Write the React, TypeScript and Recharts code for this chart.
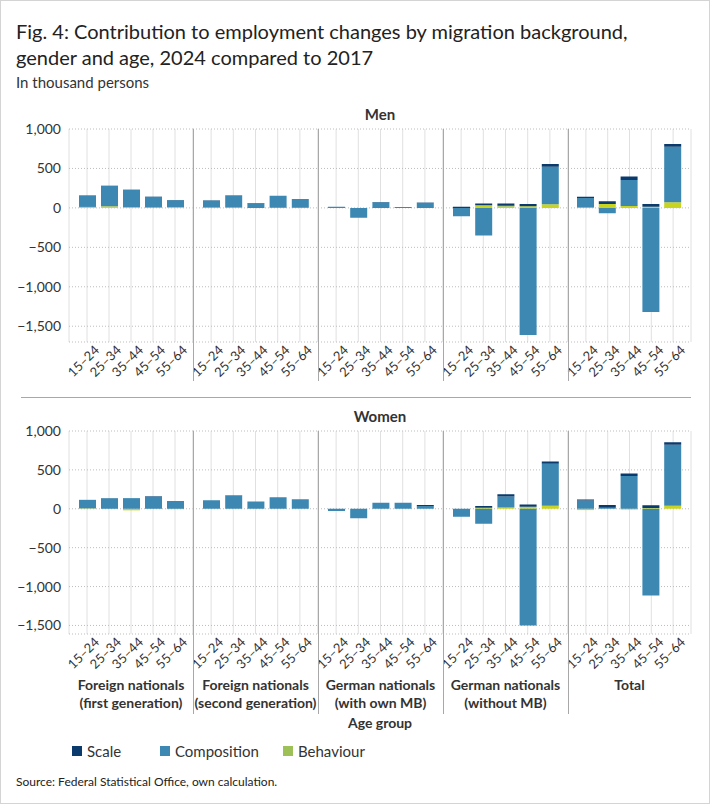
import React from 'react';
import { BarChart, Bar, XAxis, YAxis, CartesianGrid } from 'recharts';

const FONT = 'Lato, "Noto Sans", sans-serif';
const AGE_GROUPS = ['15–24', '25–34', '35–44', '45–54', '55–64'];
const GROUP_LABELS = [
  ['Foreign nationals', '(first generation)'],
  ['Foreign nationals', '(second generation)'],
  ['German nationals', '(with own MB)'],
  ['German nationals', '(without MB)'],
  ['Total'],
];
const Y_TICKS = [-1500, -1000, -500, 0, 500, 1000];

// thousand persons, one row per group, one value per age group
const menScale = [[3, 2, 2, 3, 2], [2, 0, 3, 2, 1], [0, 0, 6, 0, 2], [15, 22, 28, 30, 35], [17, 35, 42, 35, 34]];
const menComposition = [[145, 260, 222, 135, 90], [90, 155, 60, 150, 110], [15, -125, 70, 10, 65], [-107, -350, 5, -1610, 475], [120, -68, 330, -1320, 704]];
const menBehaviour = [[12, 20, 8, 5, 8], [4, 5, 0, 3, 3], [0, 0, 0, 0, 0], [0, 35, 22, 20, 47], [5, 50, 25, 15, 72]];

const womenScale = [[0, 2, 0, 5, 0], [1, 3, 0, 6, 2], [0, 0, 0, 0, 12], [0, 22, 30, 30, 30], [13, 35, 30, 34, 30]];
const womenComposition = [[110, 135, 137, 158, 100], [110, 172, 95, 140, 122], [-28, -123, 77, 77, 35], [-103, -193, 140, -1500, 540], [107, 12, 423, -1115, 784]];
const womenBehaviour = [[5, 0, -20, 0, -5], [0, 0, 0, 0, 0], [0, 0, 0, 0, 0], [0, 13, 18, 25, 38], [-17, 0, -10, 10, 40]];

const SERIES = [
  { key: 'behaviour', name: 'Behaviour', fill: '#c8d41f', legend: '#9dc157' },
  { key: 'composition', name: 'Composition', fill: '#3d88b2', legend: '#3d88b2' },
  { key: 'scale', name: 'Scale', fill: '#0b3b6d', legend: '#0b3b6d' },
];

const GROUP_WIDTHS = [192, 125, 125, 125, 123];
const Y_AXIS_WIDTH = 68;

const fmt = (v: number) => {
  const s = Math.abs(v).toLocaleString('en-US');
  return v < 0 ? '\u2212' + s : s;
};

const AgeTick = (props: any) => {
  const { x, y, payload } = props;
  return (
    <g transform={`translate(${x + 13},${y + 1})`}>
      <text textAnchor="end" transform="rotate(-45)" fontSize={13} fill="#333" fontFamily={FONT}>
        {payload.value}
      </text>
    </g>
  );
};

const buildRows = (scale: number[], comp: number[], beh: number[]) =>
  AGE_GROUPS.map((age, i) => ({ age, scale: scale[i], composition: comp[i], behaviour: beh[i] }));

type FacetProps = {
  rows: any[];
  width: number;
  plotHeight: number;
  domain: [number, number];
  withAxis: boolean;
};

const Facet = ({ rows, width, plotHeight, domain, withAxis }: FacetProps) => (
  <BarChart
    width={width}
    height={plotHeight + 50}
    data={rows}
    stackOffset="sign"
    barSize={17}
    margin={{ top: 0, right: 0, bottom: 0, left: 0 }}
    style={{ overflow: 'visible' }}
  >
    <CartesianGrid horizontal={false} stroke="#e0e0e0" />
    <CartesianGrid vertical={false} stroke="#bdbdbd" strokeDasharray="1 2" />
    <XAxis
      dataKey="age"
      interval={0}
      axisLine={false}
      tickLine={false}
      height={50}
      padding={{ left: 7, right: 7 }}
      tick={<AgeTick />}
    />
    <YAxis
      hide={!withAxis}
      width={Y_AXIS_WIDTH}
      domain={domain}
      ticks={Y_TICKS}
      interval={0}
      allowDataOverflow
      axisLine={false}
      tickLine={false}
      tickFormatter={fmt}
      tick={{ fontSize: 14, fill: '#333', fontFamily: FONT }}
    />
    {SERIES.map((s) => (
      <Bar key={s.key} dataKey={s.key} name={s.name} stackId="a" fill={s.fill} isAnimationActive={false} />
    ))}
  </BarChart>
);

const offsets = () => {
  let left = 0;
  return GROUP_WIDTHS.map((w) => {
    const l = left;
    left += w;
    return l;
  });
};

const Panel = ({ top, title, scale, comp, beh, plotHeight, domain, dividerBottom }: any) => {
  const lefts = offsets();
  return (
    <>
      <div style={{ position: 'absolute', top: top - 24, left: Y_AXIS_WIDTH, width: 622, textAlign: 'center', fontWeight: 700, fontSize: 15, color: '#333' }}>
        {title}
      </div>
      {GROUP_WIDTHS.map((w, g) => (
        <div key={g} style={{ position: 'absolute', top, left: lefts[g] }}>
          <Facet
            rows={buildRows(scale[g], comp[g], beh[g])}
            width={w}
            plotHeight={plotHeight}
            domain={domain}
            withAxis={g === 0}
          />
        </div>
      ))}
      {lefts.slice(1).map((l, i) => (
        <div key={i} style={{ position: 'absolute', top, left: l, width: 1, height: dividerBottom - top, background: '#a8a8a8' }} />
      ))}
    </>
  );
};

const LEGEND_WIDTHS = [88, 123, 100];

export default function App() {
  const lefts = offsets();
  return (
    <div style={{ position: 'relative', width: 710, height: 804, boxSizing: 'border-box', border: '1px solid #d4d4d4', fontFamily: FONT, color: '#222', background: '#fff' }}>
      <style>{'body{margin:0} .recharts-surface{overflow:visible}'}</style>
      <div style={{ position: 'absolute', top: 17, left: 15, fontSize: 20, lineHeight: '26px', width: 680 }}>
        Fig. 4: Contribution to employment changes by migration background,
        <br />
        gender and age, 2024 compared to 2017
      </div>
      <div style={{ position: 'absolute', top: 72, left: 15, fontSize: 15, color: '#333' }}>In thousand persons</div>

      <Panel top={128} title="Men" scale={menScale} comp={menComposition} beh={menBehaviour} plotHeight={213} domain={[-1700, 1000]} dividerBottom={380} />

      <div style={{ position: 'absolute', top: 396, left: 20, width: 670, height: 1, background: '#a8a8a8' }} />

      <Panel top={430} title="Women" scale={womenScale} comp={womenComposition} beh={womenBehaviour} plotHeight={203} domain={[-1610, 1000]} dividerBottom={713} />

      {GROUP_LABELS.map((lines, g) => (
        <div
          key={g}
          style={{ position: 'absolute', top: 675, left: g === 0 ? lefts[g] + Y_AXIS_WIDTH : lefts[g], width: g === 0 ? GROUP_WIDTHS[g] - Y_AXIS_WIDTH : GROUP_WIDTHS[g], textAlign: 'center', fontWeight: 700, fontSize: 14, lineHeight: '18px', color: '#333' }}
        >
          {lines.map((t) => (
            <div key={t}>{t}</div>
          ))}
        </div>
      ))}
      <div style={{ position: 'absolute', top: 713, left: Y_AXIS_WIDTH, width: 622, textAlign: 'center', fontWeight: 700, fontSize: 14, color: '#333' }}>
        Age group
      </div>

      <div style={{ position: 'absolute', top: 741, left: 71, display: 'flex', fontSize: 15, color: '#333' }}>
        {[SERIES[2], SERIES[1], SERIES[0]].map((s, i) => (
          <div key={s.key} style={{ display: 'flex', alignItems: 'center', width: LEGEND_WIDTHS[i] }}>
            <span style={{ display: 'inline-block', width: 10, height: 10, background: s.legend, marginRight: 5 }} />
            {s.name}
          </div>
        ))}
      </div>

      <div style={{ position: 'absolute', top: 773, left: 15, fontSize: 12, color: '#222' }}>
        Source: Federal Statistical Office, own calculation.
      </div>
    </div>
  );
}
